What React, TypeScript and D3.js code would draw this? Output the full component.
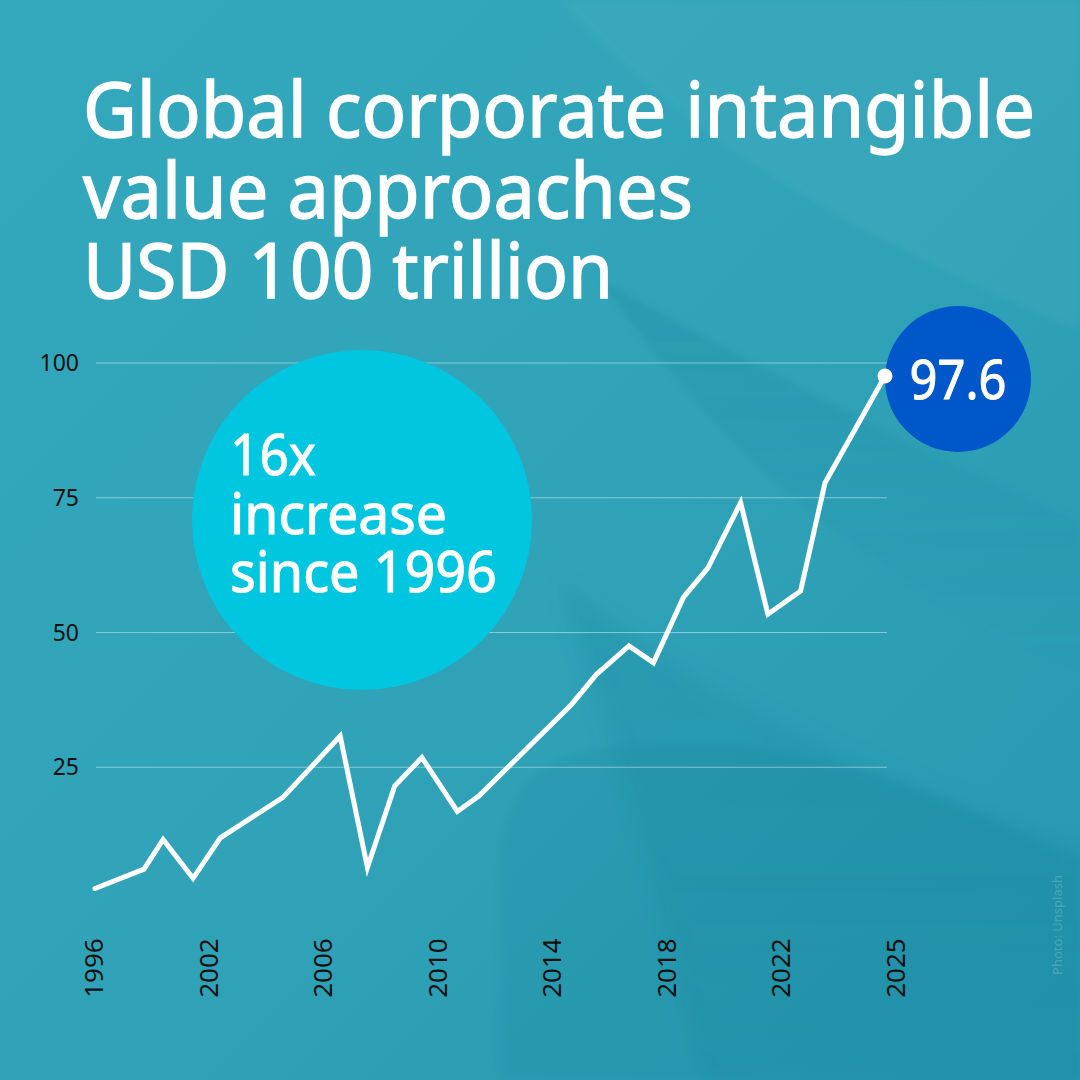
import React from 'react';
import * as d3 from 'd3';

// Chart data (USD trillion)
const periods = [1996, 1997.8, 1998.5, 1999.6, 2000.6, 2002.9, 2005.0, 2006.0, 2007.0, 2008.0, 2009.3, 2010.1,
  2013.5, 2014.4, 2015.6, 2016.5, 2017.6, 2018.5, 2019.7, 2020.7, 2021.9, 2022.8, 2025];
const values = [2.5, 6.1, 11.6, 4.4, 11.9, 19.4, 30.8, 6.4, 21.5, 26.8, 16.8, 19.7,
  36.7, 42.2, 47.5, 44.4, 56.5, 62.0, 74.1, 53.4, 57.7, 77.8, 97.6];
const yTicks = [25, 50, 75, 100];
const xTickLabels = ['1996', '2002', '2006', '2010', '2014', '2018', '2022', '2025'];

const titleLines = ['Global corporate intangible', 'value approaches', 'USD 100 trillion'];
const bubbleLines = ['16x', 'increase', 'since 1996'];
const lastValueLabel = '97.6';

const FONT = '"Noto Sans", "Open Sans", sans-serif';

const App = () => {
  const W = 1080;
  const H = 1080;

  // scales
  const x = d3.scaleLinear().domain([1996, 2025]).range([95, 885]);
  const y = d3.scaleLinear().domain([0, 100]).range([902, 363]);
  const xLabel = d3.scalePoint<string>().domain(xTickLabels).range([94, 896]);

  const data = periods.map((p, i) => ({ p, v: values[i] }));
  const line = d3.line<{ p: number; v: number }>()
    .x(d => x(d.p))
    .y(d => y(d.v));

  const last = data[data.length - 1];
  const lx = x(last.p);
  const ly = y(last.v);

  const titleWidths = [952, 610, 530];
  const bubbleWidths = [86, 217, 267];

  return (
    <svg width={W} height={H} viewBox={`0 0 ${W} ${H}`}
         style={{ position: 'absolute', left: 0, top: 0, display: 'block' }}>
      <defs>
        <linearGradient id="bg" x1="0" y1="0" x2="1" y2="1">
          <stop offset="0%" stopColor="#33a8bc" />
          <stop offset="50%" stopColor="#30a3b8" />
          <stop offset="100%" stopColor="#2699b0" />
        </linearGradient>
        <linearGradient id="bandA" x1="0" y1="0" x2="0" y2="1">
          <stop offset="0%" stopColor="#0b7088" stopOpacity={0.16} />
          <stop offset="100%" stopColor="#0b7088" stopOpacity={0} />
        </linearGradient>
        <linearGradient id="bandB" x1="0" y1="0" x2="0" y2="1">
          <stop offset="0%" stopColor="#0b7088" stopOpacity={0.15} />
          <stop offset="100%" stopColor="#0b7088" stopOpacity={0.08} />
        </linearGradient>
        <filter id="soft" x="-20%" y="-20%" width="140%" height="140%">
          <feGaussianBlur stdDeviation="10" />
        </filter>
        <filter id="softer" x="-20%" y="-20%" width="140%" height="140%">
          <feGaussianBlur stdDeviation="3" />
        </filter>
      </defs>

      {/* background */}
      <rect x={0} y={0} width={W} height={H} fill="url(#bg)" />
      <path d="M 560 0 C 680 140, 880 250, 1080 330 L 1080 0 Z" fill="#ffffff" opacity={0.035} filter="url(#softer)" />
      <path d="M 600 280 C 720 345, 900 445, 1080 520 L 1100 680 C 900 600, 740 480, 600 280 Z" fill="url(#bandA)"
            filter="url(#softer)" />
      <path d="M 560 580 C 680 690, 860 770, 1100 850 L 1100 1100 L 700 1100 C 660 900, 600 700, 560 580 Z"
            fill="url(#bandB)" filter="url(#soft)" />
      <path d="M 500 1080 L 500 870 Q 500 745 640 745 L 720 745 C 860 755, 980 810, 1080 860 L 1080 1080 Z"
            fill="#0b7088" opacity={0.1} filter="url(#softer)" />

      {/* title */}
      {titleLines.map((t, i) => (
        <text key={t} x={83} y={137 + i * 80.5} fill="#ffffff" stroke="#ffffff" strokeWidth={1.4}
              fontFamily={FONT} fontSize={76}
              textLength={titleWidths[i]} lengthAdjust="spacingAndGlyphs">{t}</text>
      ))}

      {/* grid */}
      {yTicks.map(t => (
        <g key={t}>
          <line x1={96} x2={887} y1={y(t)} y2={y(t)} stroke="#bfe6ee" strokeOpacity={0.6} strokeWidth={1} />
          <text x={79} y={y(t)} dy="0.35em" textAnchor="end" fill="#111" fontFamily={FONT} fontSize={23}>{t}</text>
        </g>
      ))}

      {/* x labels */}
      {xTickLabels.map(t => (
        <text key={t} transform={`translate(${(xLabel(t) || 0) + 9},${968}) rotate(-90)`} textAnchor="middle"
              fill="#111" fontFamily={FONT} fontSize={26}>{t}</text>
      ))}

      {/* highlight bubble */}
      <circle cx={362} cy={520} r={170} fill="#00c6df" />
      {bubbleLines.map((t, i) => (
        <text key={t} x={230} y={475 + i * 58.5} fill="#ffffff" stroke="#ffffff" strokeWidth={1}
              fontFamily={FONT} fontSize={57}
              textLength={bubbleWidths[i]} lengthAdjust="spacingAndGlyphs">{t}</text>
      ))}

      {/* line */}
      <path d={line(data) || ''} fill="none" stroke="#ffffff" strokeWidth={5} strokeLinejoin="miter" strokeLinecap="round" />

      {/* last value */}
      <circle cx={958} cy={379} r={73} fill="#0057c9" />
      <circle cx={lx} cy={ly} r={7.5} fill="#ffffff" />
      <text x={958} y={399} textAnchor="middle" fill="#ffffff" stroke="#ffffff" strokeWidth={1}
            fontFamily={FONT} fontSize={55}
            textLength={97} lengthAdjust="spacingAndGlyphs">{lastValueLabel}</text>

      {/* credit */}
      <text transform="translate(1062,925) rotate(-90)" textAnchor="middle" fill="#ffffff" fillOpacity={0.2}
            fontFamily={FONT} fontSize={13}>Photo: Unsplash</text>
    </svg>
  );
};

export default App;
